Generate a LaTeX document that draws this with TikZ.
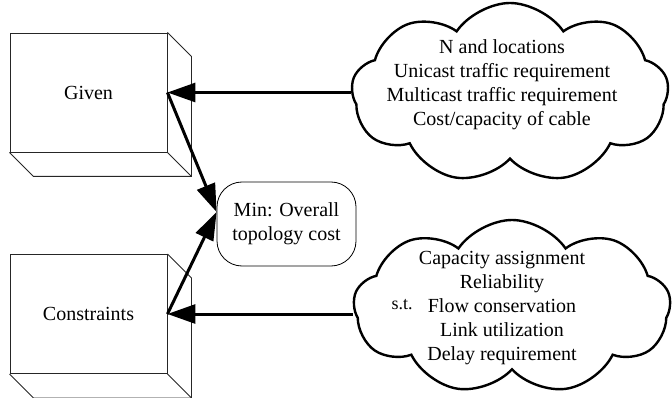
\documentclass[tikz,border=0pt]{standalone}
\usepackage{fontspec}
\setmainfont{Liberation Serif}
\usetikzlibrary{shapes.symbols,arrows.meta}

% depth faces of a box drawn behind a front rectangle node
\NewDocumentCommand{\depthbox}{mO{24}}{%
\draw[boxline] (#1.north east) -- ++(#2,#2) -- ([shift={(#2,#2)}]#1.south east)
  -- ([shift={(#2,#2)}]#1.south west) -- (#1.south west);%
\draw[boxline] (#1.south east) -- ([shift={(#2,#2)}]#1.south east);%
}

\tikzset{
  boxline/.style={line width=0.9pt, draw=black!85},
  frontbox/.style={boxline, rectangle, minimum width=157pt, minimum height=119pt},
  minstyle/.style={draw, line width=0.8pt, rounded corners=25pt, align=center,
    minimum width=139pt, minimum height=84pt},
  cloudstyle/.style={cloud, draw, line width=2.4pt, cloud puffs=9, cloud puff arc=112,
    minimum width=317pt, minimum height=180pt},
  bigarrow/.style={line width=3pt, -{Triangle[length=28pt,width=19pt]}},
}

\begin{document}
\begin{tikzpicture}[x=1pt, y=-1pt, font=\fontsize{20}{24}\selectfont]
\useasboundingbox (0,0) rectangle (672,398);

% the two boxes
\node[frontbox] (given) at (88.5,92.5) {Given};
\depthbox{given}
\node[frontbox] (constraints) at (88.5,314) {Constraints};
\depthbox{constraints}

% objective
\node[minstyle] (minbox) at (286.5,224) {Min: Overall\\topology cost};
\coordinate (minin) at ([yshift=12pt]minbox.west);

% clouds
\node[cloudstyle] (gcloud) at (510,93) {};
\node[align=center] (gtext) at (502,85) {N and locations\\Unicast traffic requirement\\Multicast traffic requirement\\Cost/capacity of cable};
\node[cloudstyle, minimum height=174pt] (ccloud) at (512,307) {};
\node[align=center] (ctext) at (502,308) {Capacity assignment\\Reliability\\Flow conservation\\Link utilization\\Delay requirement};
\node[font=\fontsize{18}{21}\selectfont] (st) at (402,305) {s.t.};

% connectors
\draw[bigarrow] (given.east -| gcloud.west) -- (given.east);
\draw[bigarrow] (constraints.east -| ccloud.west) -- (constraints.east);
\draw[bigarrow] (given.east) -- (minin);
\draw[bigarrow] (constraints.east) -- (minin);
\end{tikzpicture}
\end{document}
